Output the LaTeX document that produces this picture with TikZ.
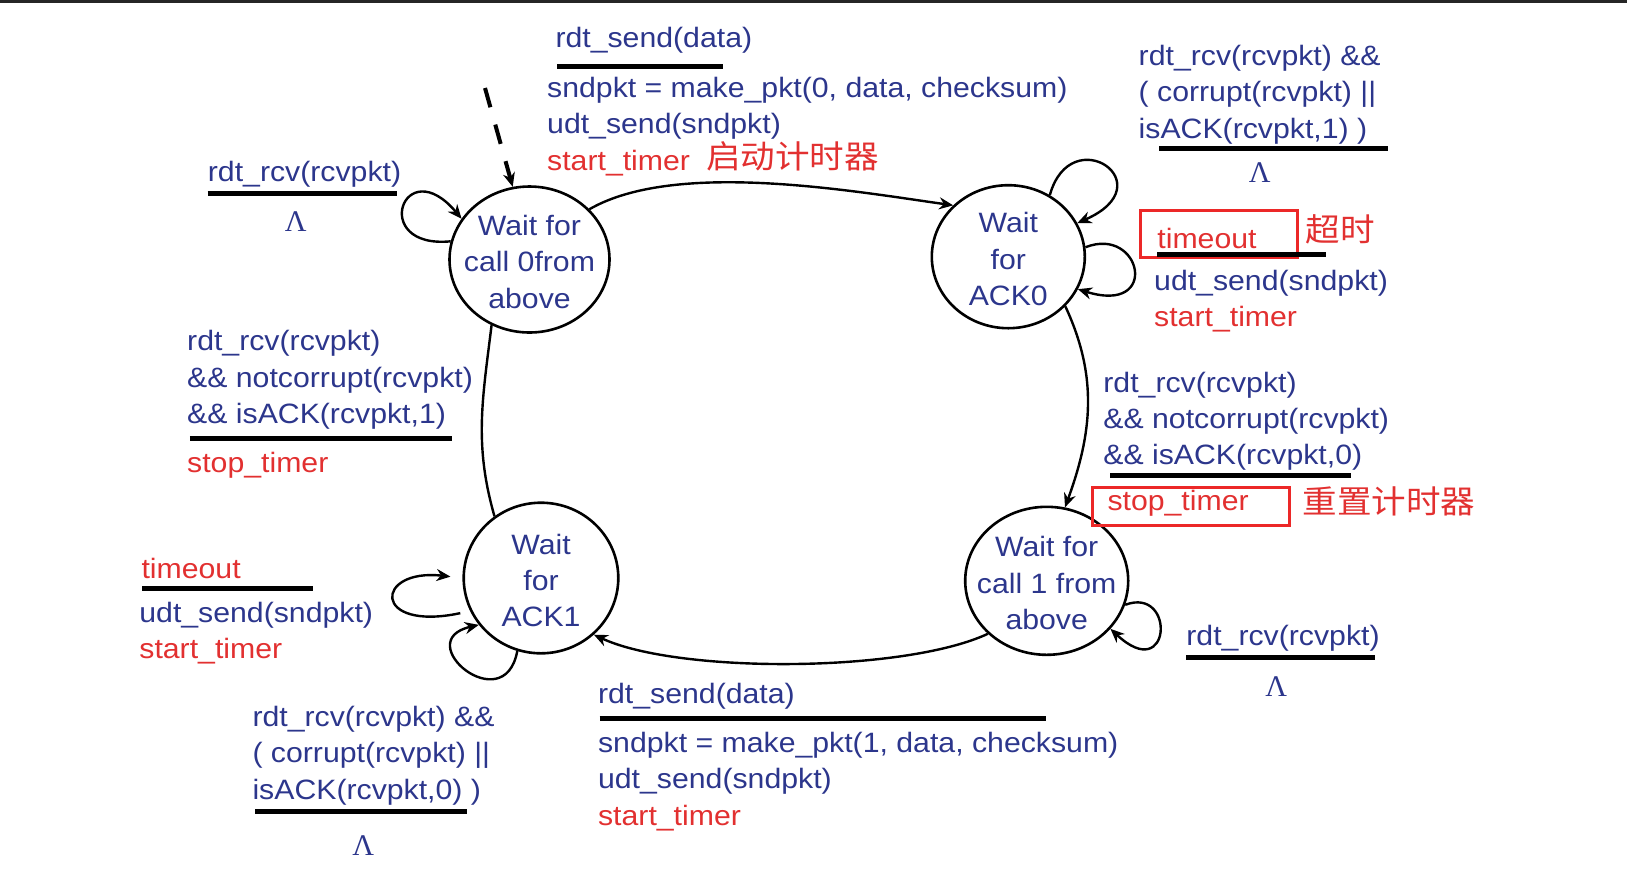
\documentclass[tikz,border=0pt]{standalone}
\usepackage{fontspec}
\setmainfont{Liberation Sans}[FakeStretch=1.08]
\newfontfamily\cjk{Noto Sans CJK SC}[FakeStretch=1.08]
\newfontfamily\lamfont{Liberation Serif}
\usetikzlibrary{arrows.meta,shapes.geometric}

\definecolor{fsmblue}{RGB}{44,54,140}
\definecolor{fsmred}{RGB}{226,48,48}
\definecolor{boxred}{RGB}{236,40,40}

\newcommand\fsmfont{\fontsize{14}{18.2}\selectfont}
\newcommand\fsmlines[1]{\begin{tabular}[t]{@{}l@{}}#1\end{tabular}}

\tikzset{
  waitstate/.style={draw, ellipse, line width=1.3pt, inner sep=0pt},
  statetext/.style={align=center, font=\fsmfont, text=fsmblue, inner sep=0pt, yshift=-1.2pt},
  lbl/.style={anchor=base west, inner sep=0pt, font=\fsmfont, text=fsmblue, yshift=-1.5pt},
  redlbl/.style={lbl, text=fsmred},
  cjklbl/.style={anchor=base west, inner sep=0pt, font=\cjk\fontsize{16}{18}\selectfont, text=fsmred, yshift=-1.5pt},
  lam/.style={anchor=base, inner sep=0pt, font=\lamfont\fontsize{15}{18}\selectfont, text=fsmblue, yshift=-1.5pt},
  sepbar/.style={line width=2.5pt},
  redbox/.style={draw=boxred, line width=1.5pt},
  trans/.style={line width=1.2pt, -{Stealth[length=7pt,width=6pt]}},
}

\begin{document}
\begin{tikzpicture}[x=0.5pt, y=0.5pt]
\useasboundingbox (0,0) rectangle (1627,-880);
\fill[black!85] (0,0) rectangle (1627,-2.5);

% states
\node[waitstate, minimum width=80pt, minimum height=73pt,
  label={[statetext]center:{Wait for\\call 0from\\above}}] (call0) at (529.5,-259.5) {};
\node[waitstate, minimum width=76.5pt, minimum height=71.5pt,
  label={[statetext]center:{Wait\\for\\ACK0}}] (ack0) at (1008.3,-256.7) {};
\node[waitstate, minimum width=81.5pt, minimum height=74pt,
  label={[statetext]center:{Wait for\\call 1 from\\above}}] (call1) at (1046.7,-580.8) {};
\node[waitstate, minimum width=77.3pt, minimum height=75.3pt,
  label={[statetext]center:{Wait\\for\\ACK1}}] (ack1) at (541,-578) {};

% initial arrow
\coordinate (init) at (485,-88);
\path[draw, line width=2pt, dash pattern=on 10pt off 9pt, -{Stealth[length=7pt,width=6pt]}] (init) -- (call0.103);

% transitions between states
\path[draw,trans] (call0.40) to[out=30,in=172,looseness=0.7] (ack0.137);
\path[draw,trans] (ack0.-41) to[out=-65,in=70] (call1.76);
\path[draw,trans] (call1.222) to[out=205,in=-25,looseness=0.6] (ack1.-47);
\path[draw,line width=1.2pt] (ack1.127) to[out=106,in=-97] (call0.240);

% self loops
\path[draw,trans] (call0.167) .. controls +(-82,-8) and +(-58,69) .. (call0.149);
\path[draw,trans] (ack0.56) .. controls +(21,76) and +(89,39) .. (ack0.26);
\path[draw,trans] (ack0.7) .. controls +(56,22) and +(83,-26) .. (ack0.-25);
\path[draw,trans] (call1.-17) .. controls +(51,19) and +(61,-57) .. (call1.-37);
\path[draw,trans,shorten <=5pt,shorten >=6pt] (ack1.205) .. controls +(-99,-21) and +(-88,10) .. (ack1.180);
\path[draw,trans] (ack1.252) .. controls +(-13,-70) and +(-70,-16) .. (ack1.217);

% call 0 -> ack 0
\node[lbl] (send0) at (555.1,-44.6) {rdt\_send(data)};
\path[draw,sepbar] (557.2,-66.4) -- (723.2,-66.4);
\node[lbl] (make0) at (546.8,-94.4) {\fsmlines{sndpkt = make\_pkt(0, data, checksum)\\udt\_send(sndpkt)\\{\color{fsmred}start\_timer}}};
\node[cjklbl] (note1) at (705.6,-165) {启动计时器};

% call 0 self loop
\node[lbl] (rcv0) at (207.5,-178.5) {rdt\_rcv(rcvpkt)};
\path[draw,sepbar] (207.5,-193) -- (397.4,-193);
\node[lam] (lam0) at (295.7,-228.3) {Λ};

% ack 0 loops
\node[lbl] (bad0) at (1138.3,-62.3) {\fsmlines{rdt\_rcv(rcvpkt) \&\&\\( corrupt(rcvpkt) ||\\isACK(rcvpkt,1) )}};
\path[draw,sepbar] (1159,-148.4) -- (1388.3,-148.4);
\node[lam] (lam1) at (1259.7,-179.5) {Λ};
\draw[redbox] (1140.4,-210.6) rectangle (1297,-257.3);
\node[redlbl] (tout0) at (1157,-245.9) {timeout};
\path[draw,sepbar] (1157,-254.2) -- (1326,-254.2);
\node[cjklbl] (note2) at (1305.3,-238.7) {超时};
\node[lbl] (resend0) at (1153.8,-287.4) {\fsmlines{udt\_send(sndpkt)\\{\color{fsmred}start\_timer}}};

% ack 0 -> call 1
\node[lbl] (ok0) at (1103,-389.1) {\fsmlines{rdt\_rcv(rcvpkt)\\\&\& notcorrupt(rcvpkt)\\\&\& isACK(rcvpkt,0)}};
\path[draw,sepbar] (1110.3,-475.2) -- (1351,-475.2);
\draw[redbox] (1092.6,-487.7) rectangle (1289.8,-525);
\node[redlbl] (stop0) at (1107.1,-507.4) {stop\_timer};
\node[cjklbl] (note3) at (1302.2,-510.5) {重置计时器};

% ack 1 -> call 0
\node[lbl] (ok1) at (186.8,-347.6) {\fsmlines{rdt\_rcv(rcvpkt)\\\&\& notcorrupt(rcvpkt)\\\&\& isACK(rcvpkt,1)}};
\path[draw,sepbar] (189.9,-438.9) -- (452.4,-438.9);
\node[redlbl] (stop1) at (186.8,-469) {stop\_timer};

% ack 1 loops
\node[redlbl] (tout1) at (141.1,-575.9) {timeout};
\path[draw,sepbar] (142.2,-588.3) -- (313.4,-588.3);
\node[lbl] (resend1) at (139,-619.5) {\fsmlines{udt\_send(sndpkt)\\{\color{fsmred}start\_timer}}};
\node[lbl] (bad1) at (252.1,-723.2) {\fsmlines{rdt\_rcv(rcvpkt) \&\&\\( corrupt(rcvpkt) ||\\isACK(rcvpkt,0) )}};
\path[draw,sepbar] (255.3,-811.4) -- (466.9,-811.4);
\node[lam] (lam3) at (363.2,-852.9) {Λ};

% call 1 self loop
\node[lbl] (rcv1) at (1186,-642.3) {rdt\_rcv(rcvpkt)};
\path[draw,sepbar] (1186,-657.9) -- (1374.9,-657.9);
\node[lam] (lam2) at (1276.3,-693.1) {Λ};

% call 1 -> ack 1
\node[lbl] (send1) at (597.7,-700.4) {rdt\_send(data)};
\path[draw,sepbar] (599.7,-718) -- (1045.9,-718);
\node[lbl] (make1) at (597.7,-749.2) {\fsmlines{sndpkt = make\_pkt(1, data, checksum)\\udt\_send(sndpkt)\\{\color{fsmred}start\_timer}}};
\end{tikzpicture}
\end{document}
